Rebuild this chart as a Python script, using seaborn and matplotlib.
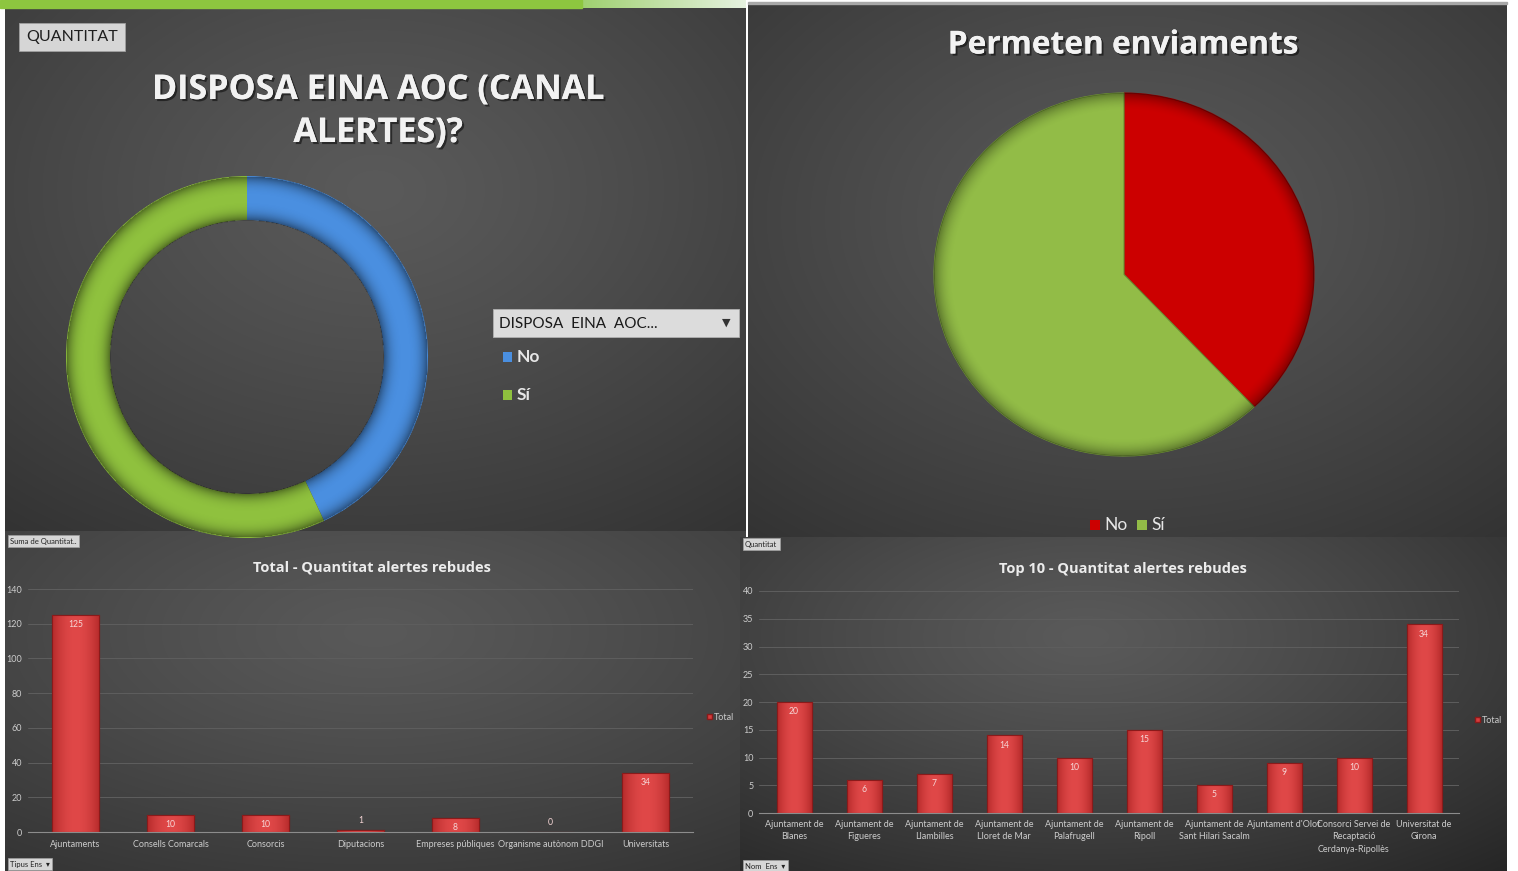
import numpy as np
import pandas as pd
import seaborn as sns
import matplotlib
matplotlib.use("Agg")
import matplotlib.pyplot as plt
from matplotlib.patches import Rectangle, Patch, Circle
import matplotlib.patheffects as pe

# ---------------- data ----------------
aoc_labels = ["No", "Sí"]
aoc_values = [43, 57]

env_labels = ["No", "Sí"]
env_values = [38, 62]

tipus_ens = ["Ajuntaments", "Consells Comarcals", "Consorcis", "Diputacions",
             "Empreses públiques", "Organisme autònom DDGI", "Universitats"]
alertes_tipus = [125, 10, 10, 1, 8, 0, 34]

top10_ens = ["Ajuntament de\nBlanes", "Ajuntament de\nFigueres", "Ajuntament de\nLlambilles",
             "Ajuntament de\nLloret de Mar", "Ajuntament de\nPalafrugell", "Ajuntament de\nRipoll",
             "Ajuntament de\nSant Hilari Sacalm", "Ajuntament d'Olot",
             "Consorci Servei de\nRecaptació\nCerdanya-Ripollès", "Universitat de\nGirona"]
alertes_top10 = [20, 6, 7, 14, 10, 15, 5, 9, 10, 34]

# ---------------- setup ----------------
W, H = 1518, 871
sns.set_theme(style="dark")
plt.rcParams["font.family"] = ["Lato", "DejaVu Sans"]
TITLE_FONT = ["Open Sans", "DejaVu Sans"]

fig = plt.figure(figsize=(W / 100, H / 100), dpi=100, facecolor="white")


def fax(x0, y0, x1, y1, **kw):
    return fig.add_axes([x0 / W, 1 - y1 / H, (x1 - x0) / W, (y1 - y0) / H], **kw)


def to_rgb(c):
    return np.array(matplotlib.colors.to_rgb(c))


def background(x0, y0, x1, y1, cx, cy, c_in, c_out, sx=1.0, sy=1.0):
    ax = fax(x0, y0, x1, y1)
    ax.set_axis_off()
    yy, xx = np.mgrid[0:1:300j, 0:1:400j]
    d = np.sqrt(((xx - cx) / sx) ** 2 + ((yy - cy) / sy) ** 2)
    d = np.clip(d / d.max(), 0, 1) ** 1.2
    ci, co = to_rgb(c_in), to_rgb(c_out)
    img = ci[None, None, :] * (1 - d[..., None]) + co[None, None, :] * d[..., None]
    ax.imshow(img, extent=[0, 1, 1, 0], aspect="auto", interpolation="bilinear")
    ax.set_xlim(0, 1)
    ax.set_ylim(1, 0)
    return ax


background(5, 8, 746, 531, 0.5, 0.35, "#5a5a5a", "#333333")
background(748, 4, 1507, 537, 0.5, 0.4, "#595959", "#333333")
background(5, 531, 746, 871, 0.5, 0.3, "#595959", "#343434")
background(740, 537, 1507, 871, 0.45, 0.3, "#5a5a5a", "#262626", sx=0.9)

# top decorations
deco = fax(0, 0, W, 10)
deco.set_axis_off()
deco.add_patch(Rectangle((0, 0), 582, 8, color="#8dc63f"))
grad = np.linspace(0, 1, 100)
cA, cB = to_rgb("#9fd070"), to_rgb("#e6f2e0")
img = cA[None, None, :] * (1 - grad[None, :, None]) + cB[None, None, :] * grad[None, :, None]
deco.imshow(img, extent=[582, 746, 8, 0], aspect="auto")
deco.add_patch(Rectangle((748, 2), 759, 2, color="#a8a8a8"))
deco.set_xlim(0, W)
deco.set_ylim(10, 0)

TXT = "#f2f2f2"
shadow = [pe.withSimplePatchShadow(offset=(1.5, -1.5), shadow_rgbFace="black", alpha=0.5), pe.Normal()]


def rim_shade(ax, r_in, r_out, strength=0.35):
    yy, xx = np.mgrid[-1:1:400j, -1:1:400j]
    r = np.sqrt(xx ** 2 + yy ** 2)
    mid = (r_in + r_out) / 2
    half = (r_out - r_in) / 2
    t = np.clip(np.abs(r - mid) / half, 0, 1)
    a = strength * t ** 3
    a[(r > r_out) | (r < r_in)] = 0
    rgba = np.zeros((400, 400, 4))
    rgba[..., 3] = a
    im = ax.imshow(rgba, extent=[-1, 1, -1, 1], origin="lower", aspect="auto", zorder=5,
                   interpolation="bilinear")
    im.set_clip_path(Circle((0, 0), r_out, transform=ax.transData))


# ---------------- donut (top-left) ----------------
axd = fax(66, 176, 428, 538)
wd, _ = axd.pie(aoc_values, colors=["#4a8fe0", "#8fc13e"], startangle=90, counterclock=False,
                wedgeprops=dict(width=0.243, linewidth=0))
axd.set_xlim(-1, 1)
axd.set_ylim(-1, 1)
axd.set_aspect("auto")
rim_shade(axd, 0.757, 1.0, 0.45)
axd.set_xlim(-1, 1)
axd.set_ylim(-1, 1)
axd.set_axis_off()

fig.text(378 / W, 1 - 90 / H, "DISPOSA EINA AOC (CANAL", ha="center", va="center",
         fontsize=24.5, fontweight="bold", color=TXT, path_effects=shadow, family=TITLE_FONT)
fig.text(378 / W, 1 - 133 / H, "ALERTES)?", ha="center", va="center",
         fontsize=24.5, fontweight="bold", color=TXT, path_effects=shadow, family=TITLE_FONT)

fig.text(26 / W, 1 - 37 / H, "QUANTITAT", ha="left", va="center", fontsize=11.5,
         color="#1e1e1e", bbox=dict(boxstyle="square,pad=0.45", facecolor="#d6d6d6",
                                     edgecolor="#a0a0a0", linewidth=0.6))

# legend of donut
lg = fax(493, 309, 740, 410)
lg.set_axis_off()
lg.add_patch(Rectangle((493, 309), 246, 28, facecolor="#dcdcdc", edgecolor="#b0b0b0", lw=0.6))
lg.text(499, 324, "DISPOSA  EINA  AOC...", ha="left", va="center", fontsize=11, color="#1a1a1a")
lg.text(726, 323, "▼", ha="center", va="center", fontsize=8, color="#333333",
        family=["DejaVu Sans"])
for lab, col, yy in zip(aoc_labels, ["#4a8fe0", "#8fc13e"], [357, 395]):
    lg.add_patch(Rectangle((503, yy - 5), 9, 10, facecolor=col, edgecolor="none"))
    lg.text(517, yy, lab, ha="left", va="center", fontsize=12.5, fontweight="bold", color="#e6e6e6")
lg.set_xlim(493, 740)
lg.set_ylim(410, 309)

# ---------------- pie (top-right) ----------------
axp = fax(934, 93, 1314, 456)
wp, _ = axp.pie(env_values, colors=["#cc0000", "#92bc47"], startangle=90, counterclock=False,
                wedgeprops=dict(linewidth=0.8))
for w, ec in zip(wp, ["#8a0000", "#6e9234"]):
    w.set_edgecolor(ec)
axp.set_xlim(-1, 1)
axp.set_ylim(-1, 1)
axp.set_aspect("auto")
yy, xx = np.mgrid[-1:1:400j, -1:1:400j]
r = np.sqrt(xx ** 2 + yy ** 2)
rgba = np.zeros((400, 400, 4))
rgba[..., 3] = np.clip((r - 0.9) / 0.1, 0, 1) ** 2 * 0.35
im = axp.imshow(rgba, extent=[-1, 1, -1, 1], origin="lower", aspect="auto", zorder=5)
im.set_clip_path(Circle((0, 0), 1.0, transform=axp.transData))
axp.set_xlim(-1, 1)
axp.set_ylim(-1, 1)
axp.set_axis_off()

fig.text(1123 / W, 1 - 45 / H, "Permeten enviaments", ha="center", va="center",
         fontsize=22.8, fontweight="bold", color=TXT, path_effects=shadow, family=TITLE_FONT)

lp = fax(1080, 512, 1180, 538)
lp.set_axis_off()
for lab, col, xx0 in zip(env_labels, ["#cc0000", "#92bc47"], [1090, 1137]):
    lp.add_patch(Rectangle((xx0, 520), 10, 10, facecolor=col, edgecolor="none"))
    lp.text(xx0 + 14, 525, lab, ha="left", va="center", fontsize=12.5, color="#e6e6e6")
lp.set_xlim(1080, 1180)
lp.set_ylim(538, 512)

# ---------------- bar charts ----------------
BAR = "#d63c3c"
BAR_EDGE = "#8a1a1a"
TICK = "#cccccc"
LABEL = "#f6d6d6"


def style_bar_axis(ax, ymax, step):
    ax.set_facecolor("none")
    ax.set_ylim(0, ymax)
    ax.set_yticks(np.arange(0, ymax + 1, step))
    ax.grid(axis="y", color="#5e5e5e", linewidth=0.7)
    ax.grid(axis="x", visible=False)
    ax.set_axisbelow(True)
    for s in ["top", "right", "left"]:
        ax.spines[s].set_visible(False)
    ax.spines["bottom"].set_visible(True)
    ax.spines["bottom"].set_color("#8c8c8c")
    ax.spines["bottom"].set_linewidth(0.8)
    ax.tick_params(axis="both", colors=TICK, labelsize=6.5, length=0)
    ax.tick_params(axis="y", pad=4)
    ax.tick_params(axis="x", pad=6)
    ax.set_xlabel("")
    ax.set_ylabel("")


def shade_bars(ax):
    g = np.linspace(-1, 1, 60)
    prof = 1 - np.abs(g) ** 2
    c_edge, c_mid = to_rgb("#b52a2a"), to_rgb("#e04848")
    img = (c_edge[None, None, :] * (1 - prof[None, :, None]) + c_mid[None, None, :] * prof[None, :, None])
    for p in list(ax.patches):
        x, y, w, h = p.get_x(), p.get_y(), p.get_width(), p.get_height()
        if h <= 0:
            continue
        im = ax.imshow(img, extent=[x, x + w, y, y + h], aspect="auto", zorder=p.get_zorder() + 0.1,
                       interpolation="bilinear")
        im.set_clip_path(p)
        ax.add_patch(Rectangle((x, y), w, h, facecolor="none", edgecolor=BAR_EDGE, lw=0.8,
                               zorder=p.get_zorder() + 0.2))


def value_labels(ax, values, ymax, height_px):
    for i, v in enumerate(values):
        px = v / ymax * height_px
        off = -7 if px > 8 else 7
        ax.annotate(str(v), xy=(i, v), xytext=(0, off), textcoords="offset points",
                    ha="center", va="center", fontsize=6.2, color=LABEL, zorder=10)


ax1 = fax(28, 589, 693, 832)
sns.barplot(x=tipus_ens, y=alertes_tipus, ax=ax1, color=BAR, saturation=1, width=0.5,
            edgecolor=BAR_EDGE, linewidth=0.8)
style_bar_axis(ax1, 140, 20)
shade_bars(ax1)
ax1.set_xlim(-0.5, len(tipus_ens) - 0.5)
ax1.set_ylim(0, 140)
value_labels(ax1, alertes_tipus, 140, 243)
fig.text(372 / W, 1 - 567 / H, "Total - Quantitat alertes rebudes", ha="center", va="center",
         fontsize=10.5, fontweight="bold", color="#ececec", family=TITLE_FONT)
ax1.legend(handles=[Patch(facecolor=BAR, edgecolor=BAR_EDGE, label="Total")],
           loc="center left", bbox_to_anchor=(707 / W, 1 - 717 / H), bbox_transform=fig.transFigure,
           frameon=False, fontsize=6.5, labelcolor=TICK, handlelength=0.5, handleheight=0.5,
           handletextpad=0.3, borderaxespad=0, borderpad=0)

ax2 = fax(759, 591, 1459, 813)
sns.barplot(x=top10_ens, y=alertes_top10, ax=ax2, color=BAR, saturation=1, width=0.5,
            edgecolor=BAR_EDGE, linewidth=0.8)
style_bar_axis(ax2, 40, 5)
shade_bars(ax2)
ax2.set_xlim(-0.5, len(top10_ens) - 0.5)
ax2.set_ylim(0, 40)
ax2.tick_params(axis="x", pad=5)
for t in ax2.get_xticklabels():
    t.set_va("top")
    t.set_linespacing(1.5)
value_labels(ax2, alertes_top10, 40, 222)
fig.text(1123 / W, 1 - 569 / H, "Top 10 - Quantitat alertes rebudes", ha="center", va="center",
         fontsize=10.5, fontweight="bold", color="#ececec", family=TITLE_FONT)
ax2.legend(handles=[Patch(facecolor=BAR, edgecolor=BAR_EDGE, label="Total")],
           loc="center left", bbox_to_anchor=(1475 / W, 1 - 720 / H), bbox_transform=fig.transFigure,
           frameon=False, fontsize=6.5, labelcolor=TICK, handlelength=0.5, handleheight=0.5,
           handletextpad=0.3, borderaxespad=0, borderpad=0)

# small pivot buttons
small_box = dict(boxstyle="square,pad=0.3", facecolor="#d6d6d6", edgecolor="#a0a0a0", linewidth=0.5)
fig.text(10 / W, 1 - 541 / H, "Suma de Quantitat..", ha="left", va="center", fontsize=5.5,
         color="#222222", bbox=small_box)
fig.text(10 / W, 1 - 864 / H, "Tipus Ens  ▾", ha="left", va="center", fontsize=5.5,
         color="#222222", bbox=small_box)
fig.text(745 / W, 1 - 544 / H, "Quantitat", ha="left", va="center", fontsize=5.5,
         color="#222222", bbox=small_box)
fig.text(745 / W, 1 - 866 / H, "Nom  Ens  ▾", ha="left", va="center", fontsize=5.5,
         color="#222222", bbox=small_box)

fig.savefig("out.png", dpi=100, facecolor=fig.get_facecolor())
